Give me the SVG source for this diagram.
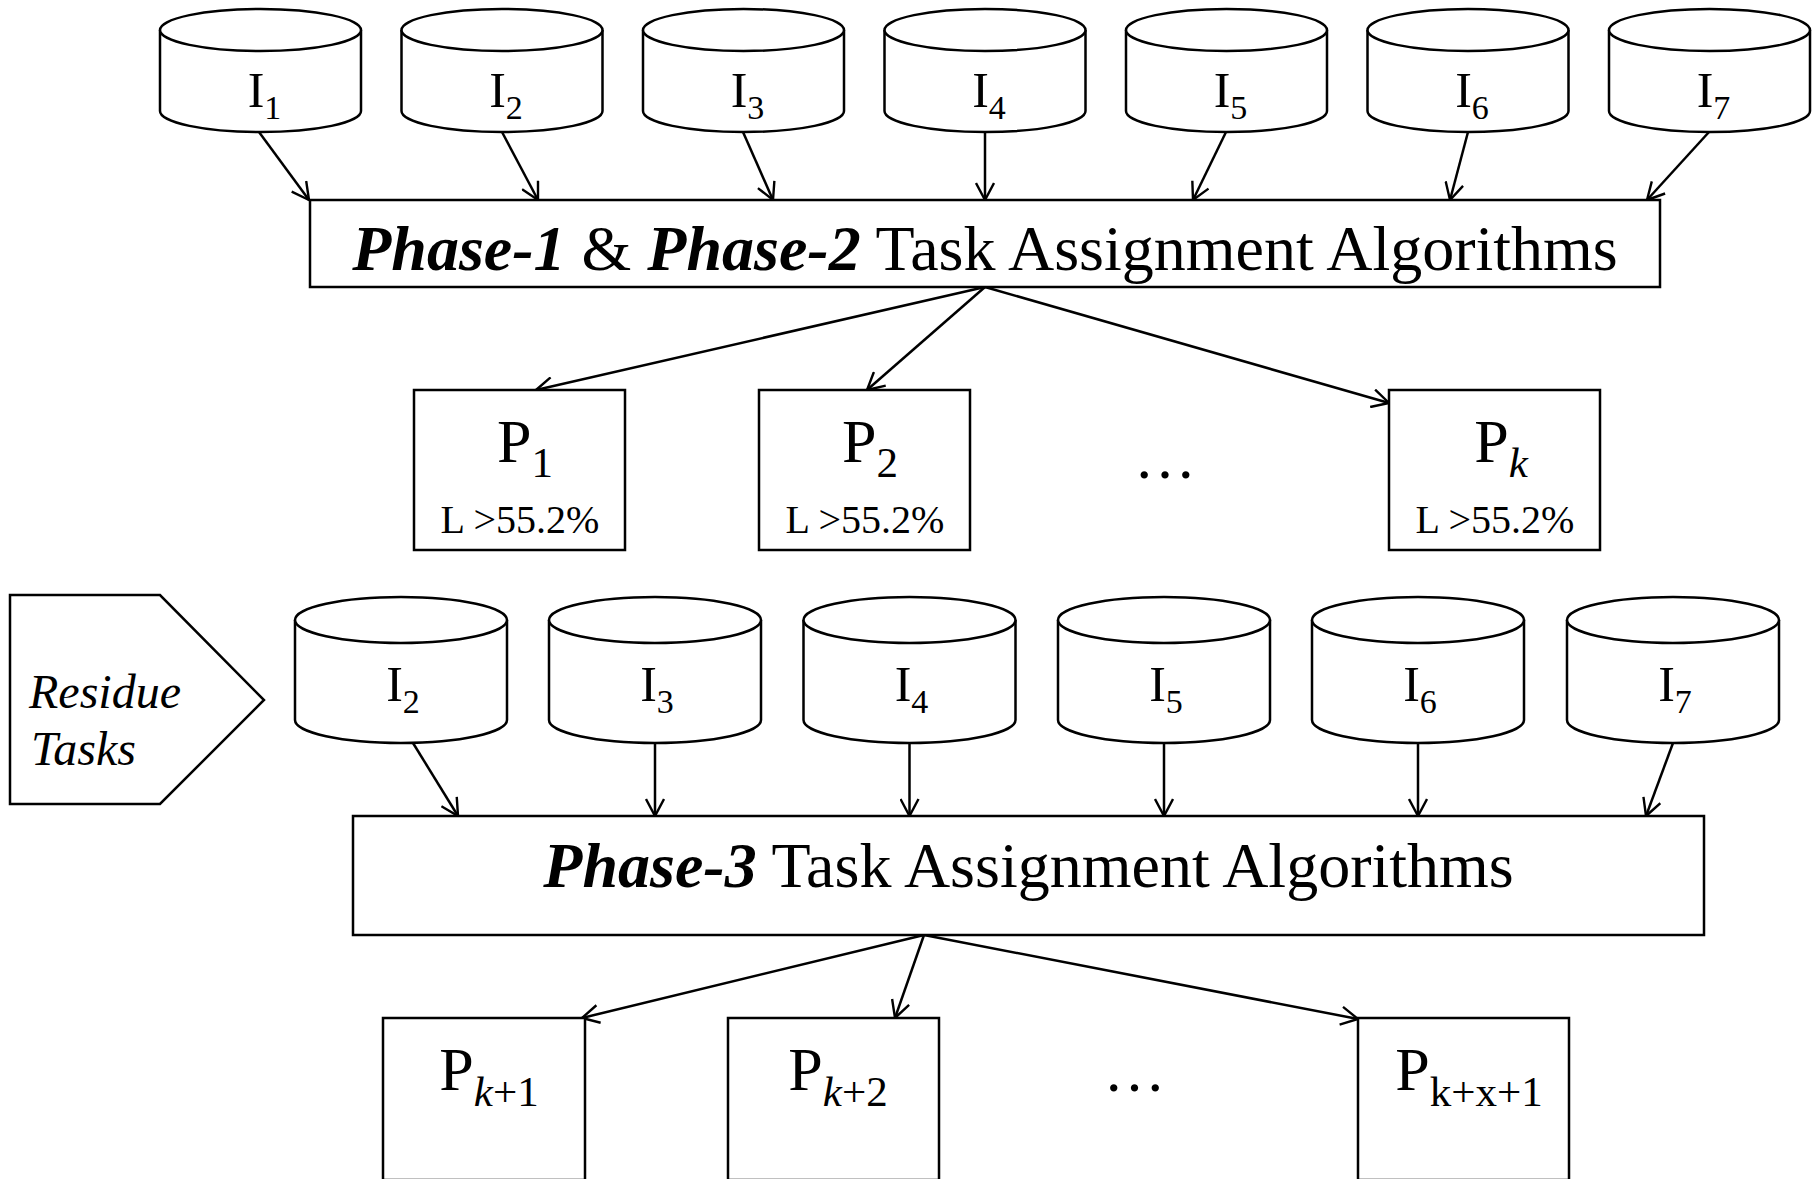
<svg xmlns="http://www.w3.org/2000/svg" xmlns:xlink="http://www.w3.org/1999/xlink" width="1815" height="1179" viewBox="0 0 1815 1179">
<style>
.shape{fill:#fff;stroke:#000;stroke-width:2.5}
.conn{fill:none;stroke:#000;stroke-width:2.5;marker-end:url(#arr)}
.t{font-family:"Liberation Serif","Times New Roman",serif;fill:#000}
.bi{font-weight:bold;font-style:italic}
.it{font-style:italic}
</style>
<defs>
<marker id="arr" viewBox="0 0 20 20" refX="18" refY="10" markerWidth="20" markerHeight="20" orient="auto" markerUnits="userSpaceOnUse">
<path d="M1,1 L18,10 L1,19" fill="none" stroke="#000" stroke-width="2.4"/>
</marker>
<g id="cylA">
<path class="shape" d="M-100.5,30 V111 A100.5,21 0 0 0 100.5,111 V30"/>
<ellipse class="shape" cx="0" cy="30" rx="100.5" ry="21"/>
</g>
<g id="cylB">
<path class="shape" d="M-106,620 V720 A106,23 0 0 0 106,720 V620"/>
<ellipse class="shape" cx="0" cy="620" rx="106" ry="23"/>
</g>
</defs>
<rect x="0" y="0" width="1815" height="1179" fill="#fff"/>

<g id="connectors">
<line class="conn" x1="259" y1="132" x2="309" y2="200"/>
<line class="conn" x1="502" y1="132" x2="538" y2="200"/>
<line class="conn" x1="743" y1="132" x2="773" y2="200"/>
<line class="conn" x1="985" y1="132" x2="985" y2="200"/>
<line class="conn" x1="1226" y1="132" x2="1193" y2="200"/>
<line class="conn" x1="1468" y1="132" x2="1450" y2="200"/>
<line class="conn" x1="1709" y1="132" x2="1647" y2="200"/>
<line class="conn" x1="985" y1="287" x2="536" y2="390"/>
<line class="conn" x1="985" y1="287" x2="867" y2="390"/>
<line class="conn" x1="985" y1="287" x2="1389" y2="403"/>
<line class="conn" x1="413" y1="743" x2="458" y2="816"/>
<line class="conn" x1="655" y1="743" x2="655" y2="816"/>
<line class="conn" x1="909.5" y1="743" x2="909.5" y2="816"/>
<line class="conn" x1="1164" y1="743" x2="1164" y2="816"/>
<line class="conn" x1="1418" y1="743" x2="1418" y2="816"/>
<line class="conn" x1="1673" y1="743" x2="1646" y2="816"/>
<line class="conn" x1="924" y1="935" x2="582" y2="1018"/>
<line class="conn" x1="924" y1="935" x2="895" y2="1018"/>
<line class="conn" x1="924" y1="935" x2="1358" y2="1019"/>
</g>

<g id="I1_top"><use xlink:href="#cylA" transform="translate(260.5,0)"/><text class="t" x="264.5" y="107" font-size="50" text-anchor="middle">I<tspan font-size="34" dy="12">1</tspan></text></g>
<g id="I2_top"><use xlink:href="#cylA" transform="translate(502,0)"/><text class="t" x="506" y="107" font-size="50" text-anchor="middle">I<tspan font-size="34" dy="12">2</tspan></text></g>
<g id="I3_top"><use xlink:href="#cylA" transform="translate(743.5,0)"/><text class="t" x="747.5" y="107" font-size="50" text-anchor="middle">I<tspan font-size="34" dy="12">3</tspan></text></g>
<g id="I4_top"><use xlink:href="#cylA" transform="translate(985,0)"/><text class="t" x="989" y="107" font-size="50" text-anchor="middle">I<tspan font-size="34" dy="12">4</tspan></text></g>
<g id="I5_top"><use xlink:href="#cylA" transform="translate(1226.5,0)"/><text class="t" x="1230.5" y="107" font-size="50" text-anchor="middle">I<tspan font-size="34" dy="12">5</tspan></text></g>
<g id="I6_top"><use xlink:href="#cylA" transform="translate(1468,0)"/><text class="t" x="1472" y="107" font-size="50" text-anchor="middle">I<tspan font-size="34" dy="12">6</tspan></text></g>
<g id="I7_top"><use xlink:href="#cylA" transform="translate(1709.5,0)"/><text class="t" x="1713.5" y="107" font-size="50" text-anchor="middle">I<tspan font-size="34" dy="12">7</tspan></text></g>

<g id="phase12">
<rect class="shape" x="310" y="200" width="1350" height="87"/>
<text class="t" x="985" y="270" font-size="64" text-anchor="middle"><tspan class="bi">Phase-1</tspan> &amp; <tspan class="bi">Phase-2</tspan> Task Assignment Algorithms</text>
</g>

<g id="P1">
<rect class="shape" x="414" y="390" width="211" height="160"/>
<text class="t" x="525" y="462" font-size="62" text-anchor="middle">P<tspan font-size="43" dy="15">1</tspan></text>
<text class="t" x="520" y="533" font-size="40" text-anchor="middle">L &gt;55.2%</text>
</g>
<g id="P2">
<rect class="shape" x="759" y="390" width="211" height="160"/>
<text class="t" x="870" y="462" font-size="62" text-anchor="middle">P<tspan font-size="43" dy="15">2</tspan></text>
<text class="t" x="865" y="533" font-size="40" text-anchor="middle">L &gt;55.2%</text>
</g>
<g id="dots1"><text class="t" x="1165" y="478" font-size="62" text-anchor="middle">…</text></g>
<g id="Pk">
<rect class="shape" x="1389" y="390" width="211" height="160"/>
<text class="t" x="1501" y="462" font-size="62" text-anchor="middle">P<tspan class="it" font-size="43" dy="15">k</tspan></text>
<text class="t" x="1495" y="533" font-size="40" text-anchor="middle">L &gt;55.2%</text>
</g>

<g id="residue">
<polygon class="shape" points="10,595 160,595 264,700 160,804 10,804"/>
<text class="t it" x="29" y="708" font-size="48">Residue</text>
<text class="t it" x="31" y="765" font-size="48">Tasks</text>
</g>

<g id="I2_bot"><use xlink:href="#cylB" transform="translate(401,0)"/><text class="t" x="403" y="701" font-size="50" text-anchor="middle">I<tspan font-size="34" dy="12">2</tspan></text></g>
<g id="I3_bot"><use xlink:href="#cylB" transform="translate(655,0)"/><text class="t" x="657" y="701" font-size="50" text-anchor="middle">I<tspan font-size="34" dy="12">3</tspan></text></g>
<g id="I4_bot"><use xlink:href="#cylB" transform="translate(909.5,0)"/><text class="t" x="911.5" y="701" font-size="50" text-anchor="middle">I<tspan font-size="34" dy="12">4</tspan></text></g>
<g id="I5_bot"><use xlink:href="#cylB" transform="translate(1164,0)"/><text class="t" x="1166" y="701" font-size="50" text-anchor="middle">I<tspan font-size="34" dy="12">5</tspan></text></g>
<g id="I6_bot"><use xlink:href="#cylB" transform="translate(1418,0)"/><text class="t" x="1420" y="701" font-size="50" text-anchor="middle">I<tspan font-size="34" dy="12">6</tspan></text></g>
<g id="I7_bot"><use xlink:href="#cylB" transform="translate(1673,0)"/><text class="t" x="1675" y="701" font-size="50" text-anchor="middle">I<tspan font-size="34" dy="12">7</tspan></text></g>

<g id="phase3">
<rect class="shape" x="353" y="816" width="1351" height="119"/>
<text class="t" x="1028.5" y="887" font-size="64" text-anchor="middle"><tspan class="bi">Phase-3</tspan> Task Assignment Algorithms</text>
</g>

<g id="Pk1">
<rect class="shape" x="383" y="1018" width="202" height="162"/>
<text class="t" x="489" y="1090" font-size="62" text-anchor="middle">P<tspan class="it" font-size="43" dy="16">k</tspan><tspan font-size="43">+1</tspan></text>
</g>
<g id="Pk2">
<rect class="shape" x="728" y="1018" width="211" height="162"/>
<text class="t" x="838" y="1090" font-size="62" text-anchor="middle">P<tspan class="it" font-size="43" dy="16">k</tspan><tspan font-size="43">+2</tspan></text>
</g>
<g id="dots2"><text class="t" x="1134.5" y="1091" font-size="62" text-anchor="middle">…</text></g>
<g id="Pkx1">
<rect class="shape" x="1358" y="1018" width="211" height="162"/>
<text class="t" x="1469" y="1090" font-size="62" text-anchor="middle">P<tspan font-size="43" dy="16">k+x+1</tspan></text>
</g>
</svg>
